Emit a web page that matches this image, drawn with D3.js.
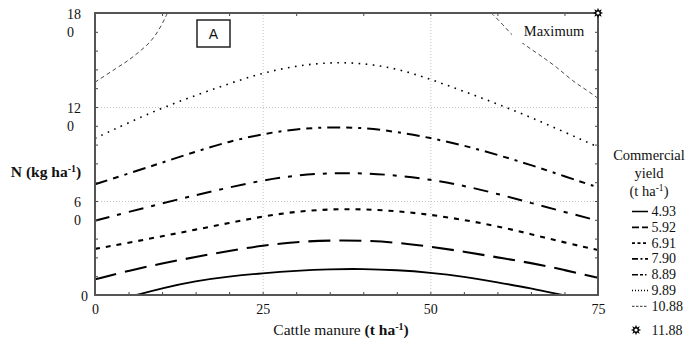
<!DOCTYPE html>
<html><head><meta charset="utf-8">
<script src="https://cdn.jsdelivr.net/npm/d3@7/dist/d3.min.js"></script>
<style>
body{margin:0;background:#fff}
svg{display:block}
text{font-family:"Liberation Serif","Times New Roman",serif;fill:#111}
</style>
</head><body>
<svg id="chart" width="688" height="343"></svg>
<script>
// ---------- data ----------
const xTickValues = [0, 25, 50, 75];
const yTickValues = [0, 60, 120, 180];
const yTickLabels = [["0"], ["6", "0"], ["12", "0"], ["18", "0"]];
const levelLabels = ["4.93", "5.92", "6.91", "7.90", "8.89", "9.89", "10.88"];
const maxLabel = "11.88";
const maxPoint = [75, 180];

const manureStep = [0, 5, 10, 15, 20, 25, 30, 35, 40, 45, 50, 55, 60, 65, 70, 75];

const c493x = [6.2, 10, 15, 20, 25, 30, 35, 40, 45, 50, 55, 60, 65, 69.7];
const c493n = [0, 4.4, 9.0, 11.9, 13.9, 15.5, 16.5, 16.7, 15.9, 14.3, 11.8, 8.1, 4.3, 0];
const c592n = [10, 15.5, 20.2, 24.3, 28.2, 31.6, 33.9, 34.9, 34.8, 33.5, 30.9, 27.7, 24, 20.5, 16, 11];
const c691n = [29.4, 33.3, 37.5, 41.7, 46, 50.2, 53.3, 54.8, 54.8, 53.6, 51.3, 48, 43.9, 38.9, 33.5, 28.7];
const c790n = [47.4, 53, 58.5, 63.7, 68.7, 73.2, 76.4, 77.9, 77.8, 76.4, 73.7, 69.8, 64.6, 58.8, 53, 47.4];
const c889n = [70.7, 77.5, 84.5, 91.5, 98, 102.8, 106, 107.2, 106.8, 104.2, 100.3, 95.5, 89.5, 83, 75.8, 68.7];
const c989n = [100, 110, 119.5, 127.4, 135, 141.8, 146.3, 148.6, 148, 144.6, 137.8, 130, 122, 113.4, 104, 94.5];
const c1088ax = [0, 3.5, 5.1, 6.6, 8.1, 9.4, 10.3, 10.8];
const c1088an = [135.8, 145.7, 150, 155.3, 160.6, 168, 175.5, 180];
const c1088bx = [59.1, 60.9, 62.1, 64.1, 66.3, 68.8, 71.3, 73.3, 75];
const c1088bn = [180, 172.3, 166, 159.6, 153.2, 145.7, 136.2, 130.9, 125.5];

// ---------- styles ----------
const styles = [
  {w: 1.9, dash: null,           lg: null,              col: "#000"},
  {w: 2.1, dash: "22,9",         lg: "7,3",             col: "#000"},
  {w: 2.1, dash: "5,6",          lg: "3,2.5",           col: "#000"},
  {w: 2.0, dash: "15,8,4,8",     lg: "6,2.5,2,2.5",     col: "#000"},
  {w: 2.0, dash: "13,6,6,6,3,6", lg: "6,2,3,2,1.5,2",   col: "#000"},
  {w: 1.6, dash: "1.6,5.5",      lg: "1,2",             col: "#000"},
  {w: 0.9, dash: "4,3",          lg: "2.5,1.5",         col: "#333"}
];

// ---------- layout ----------
const svg = d3.select("#chart");
const m = {left: 95, right: 598, top: 13, bottom: 295};
const x = d3.scaleLinear().domain([0, 75]).range([m.left, m.right]);
const y = d3.scaleLinear().domain([0, 180]).range([m.bottom, m.top]);
const W = m.right - m.left, H = m.bottom - m.top;

svg.append("defs").append("clipPath").attr("id", "clip")
  .append("rect").attr("x", m.left).attr("y", m.top).attr("width", W).attr("height", H);

// grid
const grid = svg.append("g");
grid.append("g").attr("transform", `translate(0,${m.bottom})`)
  .call(d3.axisBottom(x).tickValues([25, 50]).tickSize(-H).tickFormat(""))
  .call(g => g.select(".domain").remove())
  .selectAll("line").attr("stroke", "#c4c4c4").attr("stroke-dasharray", "1,2");
grid.append("g").attr("transform", `translate(${m.left},0)`)
  .call(d3.axisLeft(y).tickValues([60, 120]).tickSize(-W).tickFormat(""))
  .call(g => g.select(".domain").remove())
  .selectAll("line").attr("stroke", "#c4c4c4").attr("stroke-dasharray", "1,2");

// contours
const line = d3.line().x(d => x(d[0])).y(d => y(d[1])).curve(d3.curveBasis);
const curves = [
  [d3.zip(c493x, c493n)],
  [d3.zip(manureStep, c592n)],
  [d3.zip(manureStep, c691n)],
  [d3.zip(manureStep, c790n)],
  [d3.zip(manureStep, c889n)],
  [d3.zip(manureStep, c989n)],
  [d3.zip(c1088ax, c1088an), d3.zip(c1088bx, c1088bn)]
];
const cg = svg.append("g").attr("clip-path", "url(#clip)");
curves.forEach((segs, i) => {
  segs.forEach(pts => {
    cg.append("path").attr("d", line(pts)).attr("fill", "none")
      .attr("stroke", styles[i].col).attr("stroke-width", styles[i].w)
      .attr("stroke-dasharray", styles[i].dash);
  });
});

// "Maximum" label with white backing
svg.append("rect").attr("x", 512).attr("y", 19).attr("width", 76).attr("height", 24).attr("fill", "#fff");
svg.append("text").attr("x", 554).attr("y", 36).attr("text-anchor", "middle")
  .style("font-size", "14.5px").text("Maximum");

// "A" box
svg.append("rect").attr("x", 197).attr("y", 20).attr("width", 33).attr("height", 27)
  .attr("fill", "#fff").attr("stroke", "#222").attr("stroke-width", 1.5);
svg.append("text").attr("x", 213.5).attr("y", 38.5).attr("text-anchor", "middle")
  .style("font-size", "14px").style("font-family", "'Liberation Sans',Arial,sans-serif").text("A");

// minor inward ticks
function tickStyle(g) { g.select(".domain").remove(); g.selectAll("line").attr("stroke", "#444").attr("stroke-width", 1); }
svg.append("g").attr("transform", `translate(0,${m.bottom})`)
  .call(d3.axisBottom(x).tickValues(d3.range(0, 76, 5)).tickSize(-3).tickFormat("")).call(tickStyle);
svg.append("g").attr("transform", `translate(0,${m.top})`)
  .call(d3.axisTop(x).tickValues(d3.range(0, 76, 10)).tickSize(-3).tickFormat("")).call(tickStyle);
svg.append("g").attr("transform", `translate(${m.left},0)`)
  .call(d3.axisLeft(y).tickValues(d3.range(0, 181, 12)).tickSize(-3).tickFormat("")).call(tickStyle);
svg.append("g").attr("transform", `translate(${m.right},0)`)
  .call(d3.axisRight(y).tickValues(d3.range(0, 181, 12)).tickSize(-3).tickFormat("")).call(tickStyle);

// frame
svg.append("rect").attr("x", m.left).attr("y", m.top).attr("width", W).attr("height", H)
  .attr("fill", "none").attr("stroke", "#555").attr("stroke-width", 2);

// x axis labels
const xa = svg.append("g").attr("transform", `translate(0,${m.bottom})`)
  .call(d3.axisBottom(x).tickValues(xTickValues).tickSize(0).tickPadding(9));
xa.select(".domain").remove();
xa.selectAll("text").style("font-size", "14px").style("font-family", "'Liberation Serif',serif").attr("fill", "#111");

// y axis labels (wrapped)
const ya = svg.append("g").attr("transform", `translate(${m.left},0)`)
  .call(d3.axisLeft(y).tickValues(yTickValues).tickSize(0).tickFormat(""));
ya.select(".domain").remove();
ya.selectAll(".tick text").each(function(d, i) {
  const t = d3.select(this).attr("text-anchor", "start").attr("dy", null).attr("x", 0)
    .style("font-size", "14px").style("font-family", "'Liberation Serif',serif").attr("fill", "#111");
  const lines = yTickLabels[i];
  lines.forEach((s, k) => t.append("tspan").attr("x", 0).attr("y", 5 + k * 18).text(s));
  const wdt = this.querySelector("tspan").getComputedTextLength();
  const right = d === 0 ? -7 : -14;
  t.selectAll("tspan").attr("x", right - wdt);
});

// axis titles
const yt = svg.append("text").attr("x", 46).attr("y", 177).attr("text-anchor", "middle")
  .style("font-size", "15.5px").style("font-weight", "bold");
yt.append("tspan").text("N (kg ha");
yt.append("tspan").attr("dy", -5).style("font-size", "10px").text("-1");
yt.append("tspan").attr("dy", 5).text(")");

const xt = svg.append("text").attr("x", 341).attr("y", 335).attr("text-anchor", "middle")
  .style("font-size", "15.5px");
xt.append("tspan").text("Cattle manure ");
xt.append("tspan").style("font-weight", "bold").text("(t ha");
xt.append("tspan").attr("dy", -5).style("font-weight", "bold").style("font-size", "10px").text("-1");
xt.append("tspan").attr("dy", 5).style("font-weight", "bold").text(")");

// star marker
function starPath(r1, r2, n) {
  const pts = [];
  for (let k = 0; k < 2 * n; k++) {
    const a = Math.PI * k / n - Math.PI / 2, r = k % 2 ? r2 : r1;
    pts.push([r * Math.cos(a), r * Math.sin(a)]);
  }
  return "M" + pts.map(p => p.join(",")).join("L") + "Z";
}
function drawStar(cx, cy) {
  const g = svg.append("g").attr("transform", `translate(${cx},${cy})`);
  g.append("path").attr("d", starPath(5.2, 2.8, 8)).attr("fill", "#000");
  g.append("circle").attr("r", 1.6).attr("fill", "#fff");
}
drawStar(x(maxPoint[0]), y(maxPoint[1]));

// legend
const lg = svg.append("g");
const lgTitle = [["Commercial", 160], ["yield", 177.5]];
lgTitle.forEach(([s, yy]) => lg.append("text").attr("x", 649).attr("y", yy).attr("text-anchor", "middle")
  .style("font-size", "14.5px").text(s));
const ut = lg.append("text").attr("x", 649).attr("y", 195.5).attr("text-anchor", "middle").style("font-size", "14.5px");
ut.append("tspan").text("(t ha");
ut.append("tspan").attr("dy", -5).style("font-size", "9.5px").text("-1");
ut.append("tspan").attr("dy", 5).text(")");

levelLabels.forEach((lab, i) => {
  const yy = 216 + i * 15.8;
  lg.append("line").attr("x1", 632).attr("x2", 648).attr("y1", yy - 4.5).attr("y2", yy - 4.5)
    .attr("stroke", styles[i].col).attr("stroke-width", Math.max(styles[i].w * 0.8, 1))
    .attr("stroke-dasharray", styles[i].lg);
  lg.append("text").attr("x", 651.5).attr("y", yy).style("font-size", "14px").text(lab);
});
drawStar(636, 330);
lg.append("text").attr("x", 651.5).attr("y", 334.5).style("font-size", "14px").text(maxLabel);
</script>
</body></html>
